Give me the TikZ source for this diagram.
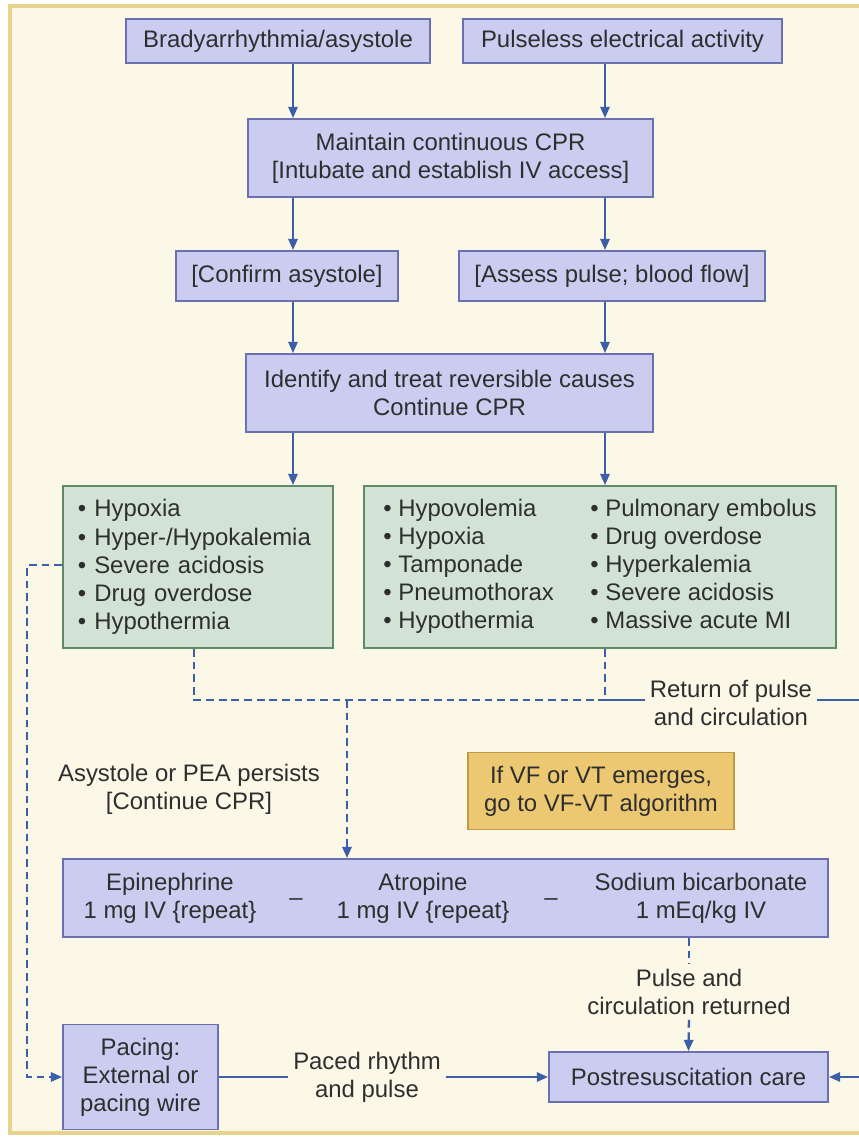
\documentclass[tikz,border=0pt]{standalone}
\usepackage{fontspec}
\setmainfont{Liberation Sans}
\usetikzlibrary{arrows.meta}

\definecolor{cream}{HTML}{FBF8E8}
\definecolor{frametan}{HTML}{E6D48C}
\definecolor{boxfill}{HTML}{CACDF0}
\definecolor{boxedge}{HTML}{6A70B0}
\definecolor{greenfill}{HTML}{D2E3D6}
\definecolor{greenedge}{HTML}{5E8A68}
\definecolor{notefill}{HTML}{ECC873}
\definecolor{noteedge}{HTML}{C29A45}
\definecolor{flowblue}{HTML}{3D5FA8}
\definecolor{textgray}{HTML}{2E2E2E}

\begin{document}
\begin{tikzpicture}[x=0.025cm, y=-0.025cm,
    font=\fontsize{17}{20}\selectfont, text=textgray,
    bluebox/.style={draw=boxedge, fill=boxfill, line width=1.2pt, rectangle, align=center, inner sep=0pt},
    greenbox/.style={draw=greenedge, fill=greenfill, line width=1.2pt, rectangle, align=left, minimum height=4.05cm},
    notebox/.style={draw=noteedge, fill=notefill, line width=1.2pt, rectangle, align=center},
    flow/.style={-{Triangle[length=8pt,width=6.5pt]}, draw=flowblue, line width=1.7pt},
    link/.style={draw=flowblue, line width=1.7pt},
    dashlink/.style={link, dash pattern=on 5.5pt off 3.5pt},
    dashflow/.style={flow, dash pattern=on 5.5pt off 3.5pt}]

    \useasboundingbox (0,0) rectangle (859,1138);

    % Frame
    \draw[draw=frametan, fill=cream, line width=2.5pt] (10,6) rectangle (900,1133);

    % Column positions
    \coordinate (colL) at (293,0);
    \coordinate (colR) at (605,0);

    % Starting rhythms
    \node[bluebox, minimum width=7.6cm, minimum height=1.1cm] (brady) at (278,41) {Bradyarrhythmia/asystole};
    \node[bluebox, minimum width=7.975cm, minimum height=1.1cm] (pea) at (622.5,41) {Pulseless electrical activity};

    % CPR
    \node[bluebox, minimum width=10.125cm, minimum height=1.95cm] (cpr) at (450.5,158) {Maintain continuous CPR\\{[}Intubate and establish IV access{]}};
    \draw[flow] (brady.south -| colL) -- (cpr.north -| colL);
    \draw[flow] (pea.south -| colR) -- (cpr.north -| colR);

    % Checks
    \node[bluebox, minimum width=5.55cm, minimum height=1.25cm] (confirm) at (287,276) {{[}Confirm asystole{]}};
    \node[bluebox, minimum width=7.65cm, minimum height=1.25cm] (assess) at (612,276) {{[}Assess pulse; blood flow{]}};
    \draw[flow] (cpr.south -| colL) -- (confirm.north -| colL);
    \draw[flow] (cpr.south -| colR) -- (assess.north -| colR);

    % Reversible causes
    \node[bluebox, minimum width=10.175cm, minimum height=1.95cm] (identify) at (449.5,393) {Identify and treat reversible causes\\Continue CPR};
    \draw[flow] (confirm.south -| colL) -- (identify.north -| colL);
    \draw[flow] (assess.south -| colR) -- (identify.north -| colR);

    \node[greenbox, text width=6cm, inner xsep=0.375cm, minimum width=6.75cm] (causesL) at (198,567) {%
        \textbullet\ Hypoxia\\
        \textbullet\ Hyper-/Hypokalemia\\
        \textbullet\ Severe acidosis\\
        \textbullet\ Drug overdose\\
        \textbullet\ Hypothermia};
    \node[greenbox, inner xsep=0.4cm, minimum width=11.8cm] (causesR) at (600,567) {%
        \begin{tabular}{@{}p{5.175cm}@{}l@{}}
        \textbullet\ Hypovolemia & \textbullet\ Pulmonary embolus\\
        \textbullet\ Hypoxia & \textbullet\ Drug overdose\\
        \textbullet\ Tamponade & \textbullet\ Hyperkalemia\\
        \textbullet\ Pneumothorax & \textbullet\ Severe acidosis\\
        \textbullet\ Hypothermia & \textbullet\ Massive acute MI
        \end{tabular}};
    \draw[flow] (identify.south -| colL) -- (causesL.north -| colL);
    \draw[flow] (identify.south -| colR) -- (causesR.north -| colR);

    % Dashed joins below the causes
    \coordinate (jL) at (194,700);
    \coordinate (jM) at (347,700);
    \coordinate (jR) at (605,700);
    \draw[dashlink] (causesL.south -| jL) -- (jL) -- (jR);
    \draw[dashlink] (causesR.south -| jR) -- (jR);

    % Return of pulse loop on the right
    \node[align=center] (ret) at (731,703) {Return of pulse\\and circulation};
    \coordinate (loopR) at (885,0);
    \draw[link] (jR) -- (ret.west |- jR);

    % Persisting rhythm
    \node[align=center] (persists) at (189,789) {Asystole or PEA persists\\{[}Continue CPR{]}};
    \node[notebox, minimum width=6.65cm, minimum height=1.925cm] (vfvt) at (601,791) {If VF or VT emerges,\\go to VF-VT algorithm};

    % Drugs
    \node[bluebox, minimum width=19.125cm, minimum height=1.95cm] (drugs) at (445.5,898) {};
    \node[align=center] (epi) at (170,898) {Epinephrine\\1 mg IV \{repeat\}};
    \node[anchor=base] (dashA) at (296,905) {--};
    \node[align=center] (atro) at (423,898) {Atropine\\1 mg IV \{repeat\}};
    \node[anchor=base] (dashB) at (551,905) {--};
    \node[align=center] (bicarb) at (701,898) {Sodium bicarbonate\\1 mEq/kg IV};
    \draw[dashflow] (jM) -- (drugs.north -| jM);

    % Pulse returned
    \node[align=center] (pulse) at (689,992) {Pulse and\\circulation returned};
    \draw[dashlink] (drugs.south -| pulse) -- (pulse.north);

    % Bottom row
    \node[bluebox, minimum width=6.975cm, minimum height=1.25cm] (post) at (688.5,1077) {Postresuscitation care};
    \node[bluebox, minimum width=3.875cm, minimum height=2.625cm] (pacing) at (140.5,1077) {Pacing:\\External or\\pacing wire};
    \node[align=center] (paced) at (367,1077) {Paced rhythm\\and pulse};
    \draw[dashflow] (pulse.south) -- (post.north);
    \draw[link] (pacing.east) -- (paced.west);
    \draw[flow] (paced.east) -- (post.west);
    \draw[flow] (ret.east |- jR) -- (jR -| loopR) |- (post.east);

    % Pacing from the causes
    \coordinate (loopL) at (27,565);
    \draw[dashflow] (causesL.west |- loopL) -- (loopL) |- (pacing.west);

\end{tikzpicture}
\end{document}
